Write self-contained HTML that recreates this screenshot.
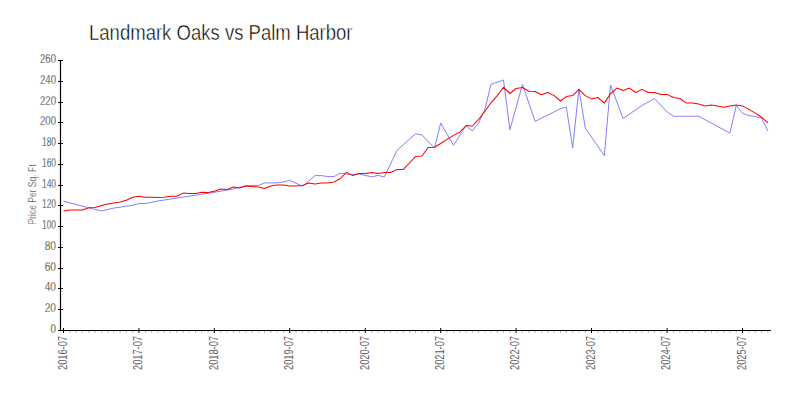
<!DOCTYPE html>
<html><head><meta charset="utf-8"><style>
html,body{margin:0;padding:0;background:#fff;width:800px;height:400px;overflow:hidden}
svg{display:block}
text{font-family:"Liberation Sans",sans-serif}
.title{font-size:22.5px;fill:#000;stroke:#fff;stroke-width:0.45px}
.yl{font-size:12px;fill:#000;stroke:#fff;stroke-width:0.3px}
.xl{font-size:12px;fill:#000;stroke:#fff;stroke-width:0.3px}
.ylab{font-size:11px;fill:#111;stroke:#fff;stroke-width:0.35px}
</style></head><body>
<svg width="800" height="400" viewBox="0 0 800 400">
<rect width="800" height="400" fill="#fff"/>
<text x="89" y="40" class="title" textLength="263.5" lengthAdjust="spacingAndGlyphs">Landmark Oaks vs Palm Harbor</text>
<text transform="translate(35.6,224.5) rotate(-90)" class="ylab" textLength="60" lengthAdjust="spacingAndGlyphs">Price Per Sq. Ft</text>
<line x1="60.5" y1="60" x2="60.5" y2="331" stroke="#000" stroke-width="1.2"/>
<line x1="60" y1="330.5" x2="771" y2="330.5" stroke="#000" stroke-width="1.2"/>
<line x1="58" y1="330.5" x2="63" y2="330.5" stroke="#000" stroke-width="1"/><text x="50.50" y="333.3" class="yl" textLength="5.5" lengthAdjust="spacingAndGlyphs">0</text><line x1="58" y1="309.5" x2="63" y2="309.5" stroke="#000" stroke-width="1"/><text x="44.75" y="312.3" class="yl" textLength="11.25" lengthAdjust="spacingAndGlyphs">20</text><line x1="58" y1="288.5" x2="63" y2="288.5" stroke="#000" stroke-width="1"/><text x="44.75" y="291.3" class="yl" textLength="11.25" lengthAdjust="spacingAndGlyphs">40</text><line x1="58" y1="268.5" x2="63" y2="268.5" stroke="#000" stroke-width="1"/><text x="44.75" y="271.3" class="yl" textLength="11.25" lengthAdjust="spacingAndGlyphs">60</text><line x1="58" y1="247.5" x2="63" y2="247.5" stroke="#000" stroke-width="1"/><text x="44.75" y="250.3" class="yl" textLength="11.25" lengthAdjust="spacingAndGlyphs">80</text><line x1="58" y1="226.5" x2="63" y2="226.5" stroke="#000" stroke-width="1"/><text x="42.00" y="229.3" class="yl" textLength="14" lengthAdjust="spacingAndGlyphs">100</text><line x1="58" y1="205.5" x2="63" y2="205.5" stroke="#000" stroke-width="1"/><text x="42.00" y="208.3" class="yl" textLength="14" lengthAdjust="spacingAndGlyphs">120</text><line x1="58" y1="185.5" x2="63" y2="185.5" stroke="#000" stroke-width="1"/><text x="42.00" y="188.3" class="yl" textLength="14" lengthAdjust="spacingAndGlyphs">140</text><line x1="58" y1="164.5" x2="63" y2="164.5" stroke="#000" stroke-width="1"/><text x="42.00" y="167.3" class="yl" textLength="14" lengthAdjust="spacingAndGlyphs">160</text><line x1="58" y1="143.5" x2="63" y2="143.5" stroke="#000" stroke-width="1"/><text x="42.00" y="146.3" class="yl" textLength="14" lengthAdjust="spacingAndGlyphs">180</text><line x1="58" y1="122.5" x2="63" y2="122.5" stroke="#000" stroke-width="1"/><text x="40.00" y="125.3" class="yl" textLength="16" lengthAdjust="spacingAndGlyphs">200</text><line x1="58" y1="102.5" x2="63" y2="102.5" stroke="#000" stroke-width="1"/><text x="40.00" y="105.3" class="yl" textLength="16" lengthAdjust="spacingAndGlyphs">220</text><line x1="58" y1="81.5" x2="63" y2="81.5" stroke="#000" stroke-width="1"/><text x="40.00" y="84.3" class="yl" textLength="16" lengthAdjust="spacingAndGlyphs">240</text><line x1="58" y1="60.5" x2="63" y2="60.5" stroke="#000" stroke-width="1"/><text x="40.00" y="63.3" class="yl" textLength="16" lengthAdjust="spacingAndGlyphs">260</text><line x1="69.90" y1="331" x2="69.90" y2="333" stroke="#bbb" stroke-width="1"/><line x1="76.31" y1="331" x2="76.31" y2="333" stroke="#bbb" stroke-width="1"/><line x1="82.50" y1="331" x2="82.50" y2="333" stroke="#bbb" stroke-width="1"/><line x1="88.91" y1="331" x2="88.91" y2="333" stroke="#bbb" stroke-width="1"/><line x1="95.11" y1="331" x2="95.11" y2="333" stroke="#bbb" stroke-width="1"/><line x1="101.51" y1="331" x2="101.51" y2="333" stroke="#bbb" stroke-width="1"/><line x1="107.91" y1="331" x2="107.91" y2="333" stroke="#bbb" stroke-width="1"/><line x1="113.70" y1="331" x2="113.70" y2="333" stroke="#bbb" stroke-width="1"/><line x1="120.10" y1="331" x2="120.10" y2="333" stroke="#bbb" stroke-width="1"/><line x1="126.30" y1="331" x2="126.30" y2="333" stroke="#bbb" stroke-width="1"/><line x1="132.70" y1="331" x2="132.70" y2="333" stroke="#bbb" stroke-width="1"/><line x1="145.30" y1="331" x2="145.30" y2="333" stroke="#bbb" stroke-width="1"/><line x1="151.71" y1="331" x2="151.71" y2="333" stroke="#bbb" stroke-width="1"/><line x1="157.90" y1="331" x2="157.90" y2="333" stroke="#bbb" stroke-width="1"/><line x1="164.31" y1="331" x2="164.31" y2="333" stroke="#bbb" stroke-width="1"/><line x1="170.50" y1="331" x2="170.50" y2="333" stroke="#bbb" stroke-width="1"/><line x1="176.91" y1="331" x2="176.91" y2="333" stroke="#bbb" stroke-width="1"/><line x1="183.31" y1="331" x2="183.31" y2="333" stroke="#bbb" stroke-width="1"/><line x1="189.10" y1="331" x2="189.10" y2="333" stroke="#bbb" stroke-width="1"/><line x1="195.50" y1="331" x2="195.50" y2="333" stroke="#bbb" stroke-width="1"/><line x1="201.70" y1="331" x2="201.70" y2="333" stroke="#bbb" stroke-width="1"/><line x1="208.10" y1="331" x2="208.10" y2="333" stroke="#bbb" stroke-width="1"/><line x1="220.70" y1="331" x2="220.70" y2="333" stroke="#bbb" stroke-width="1"/><line x1="227.10" y1="331" x2="227.10" y2="333" stroke="#bbb" stroke-width="1"/><line x1="233.30" y1="331" x2="233.30" y2="333" stroke="#bbb" stroke-width="1"/><line x1="239.71" y1="331" x2="239.71" y2="333" stroke="#bbb" stroke-width="1"/><line x1="245.90" y1="331" x2="245.90" y2="333" stroke="#bbb" stroke-width="1"/><line x1="252.31" y1="331" x2="252.31" y2="333" stroke="#bbb" stroke-width="1"/><line x1="258.71" y1="331" x2="258.71" y2="333" stroke="#bbb" stroke-width="1"/><line x1="264.49" y1="331" x2="264.49" y2="333" stroke="#bbb" stroke-width="1"/><line x1="270.90" y1="331" x2="270.90" y2="333" stroke="#bbb" stroke-width="1"/><line x1="277.09" y1="331" x2="277.09" y2="333" stroke="#bbb" stroke-width="1"/><line x1="283.50" y1="331" x2="283.50" y2="333" stroke="#bbb" stroke-width="1"/><line x1="296.10" y1="331" x2="296.10" y2="333" stroke="#bbb" stroke-width="1"/><line x1="302.50" y1="331" x2="302.50" y2="333" stroke="#bbb" stroke-width="1"/><line x1="308.70" y1="331" x2="308.70" y2="333" stroke="#bbb" stroke-width="1"/><line x1="315.10" y1="331" x2="315.10" y2="333" stroke="#bbb" stroke-width="1"/><line x1="321.30" y1="331" x2="321.30" y2="333" stroke="#bbb" stroke-width="1"/><line x1="327.70" y1="331" x2="327.70" y2="333" stroke="#bbb" stroke-width="1"/><line x1="334.11" y1="331" x2="334.11" y2="333" stroke="#bbb" stroke-width="1"/><line x1="340.10" y1="331" x2="340.10" y2="333" stroke="#bbb" stroke-width="1"/><line x1="346.50" y1="331" x2="346.50" y2="333" stroke="#bbb" stroke-width="1"/><line x1="352.70" y1="331" x2="352.70" y2="333" stroke="#bbb" stroke-width="1"/><line x1="359.10" y1="331" x2="359.10" y2="333" stroke="#bbb" stroke-width="1"/><line x1="371.70" y1="331" x2="371.70" y2="333" stroke="#bbb" stroke-width="1"/><line x1="378.11" y1="331" x2="378.11" y2="333" stroke="#bbb" stroke-width="1"/><line x1="384.31" y1="331" x2="384.31" y2="333" stroke="#bbb" stroke-width="1"/><line x1="390.71" y1="331" x2="390.71" y2="333" stroke="#bbb" stroke-width="1"/><line x1="396.91" y1="331" x2="396.91" y2="333" stroke="#bbb" stroke-width="1"/><line x1="403.31" y1="331" x2="403.31" y2="333" stroke="#bbb" stroke-width="1"/><line x1="409.71" y1="331" x2="409.71" y2="333" stroke="#bbb" stroke-width="1"/><line x1="415.50" y1="331" x2="415.50" y2="333" stroke="#bbb" stroke-width="1"/><line x1="421.90" y1="331" x2="421.90" y2="333" stroke="#bbb" stroke-width="1"/><line x1="428.10" y1="331" x2="428.10" y2="333" stroke="#bbb" stroke-width="1"/><line x1="434.50" y1="331" x2="434.50" y2="333" stroke="#bbb" stroke-width="1"/><line x1="447.10" y1="331" x2="447.10" y2="333" stroke="#bbb" stroke-width="1"/><line x1="453.51" y1="331" x2="453.51" y2="333" stroke="#bbb" stroke-width="1"/><line x1="459.70" y1="331" x2="459.70" y2="333" stroke="#bbb" stroke-width="1"/><line x1="466.11" y1="331" x2="466.11" y2="333" stroke="#bbb" stroke-width="1"/><line x1="472.30" y1="331" x2="472.30" y2="333" stroke="#bbb" stroke-width="1"/><line x1="478.71" y1="331" x2="478.71" y2="333" stroke="#bbb" stroke-width="1"/><line x1="485.11" y1="331" x2="485.11" y2="333" stroke="#bbb" stroke-width="1"/><line x1="490.90" y1="331" x2="490.90" y2="333" stroke="#bbb" stroke-width="1"/><line x1="497.30" y1="331" x2="497.30" y2="333" stroke="#bbb" stroke-width="1"/><line x1="503.50" y1="331" x2="503.50" y2="333" stroke="#bbb" stroke-width="1"/><line x1="509.90" y1="331" x2="509.90" y2="333" stroke="#bbb" stroke-width="1"/><line x1="522.50" y1="331" x2="522.50" y2="333" stroke="#bbb" stroke-width="1"/><line x1="528.91" y1="331" x2="528.91" y2="333" stroke="#bbb" stroke-width="1"/><line x1="535.10" y1="331" x2="535.10" y2="333" stroke="#bbb" stroke-width="1"/><line x1="541.51" y1="331" x2="541.51" y2="333" stroke="#bbb" stroke-width="1"/><line x1="547.70" y1="331" x2="547.70" y2="333" stroke="#bbb" stroke-width="1"/><line x1="554.11" y1="331" x2="554.11" y2="333" stroke="#bbb" stroke-width="1"/><line x1="560.51" y1="331" x2="560.51" y2="333" stroke="#bbb" stroke-width="1"/><line x1="566.29" y1="331" x2="566.29" y2="333" stroke="#bbb" stroke-width="1"/><line x1="572.70" y1="331" x2="572.70" y2="333" stroke="#bbb" stroke-width="1"/><line x1="578.90" y1="331" x2="578.90" y2="333" stroke="#bbb" stroke-width="1"/><line x1="585.30" y1="331" x2="585.30" y2="333" stroke="#bbb" stroke-width="1"/><line x1="597.90" y1="331" x2="597.90" y2="333" stroke="#bbb" stroke-width="1"/><line x1="604.30" y1="331" x2="604.30" y2="333" stroke="#bbb" stroke-width="1"/><line x1="610.50" y1="331" x2="610.50" y2="333" stroke="#bbb" stroke-width="1"/><line x1="616.90" y1="331" x2="616.90" y2="333" stroke="#bbb" stroke-width="1"/><line x1="623.10" y1="331" x2="623.10" y2="333" stroke="#bbb" stroke-width="1"/><line x1="629.51" y1="331" x2="629.51" y2="333" stroke="#bbb" stroke-width="1"/><line x1="635.91" y1="331" x2="635.91" y2="333" stroke="#bbb" stroke-width="1"/><line x1="641.90" y1="331" x2="641.90" y2="333" stroke="#bbb" stroke-width="1"/><line x1="648.30" y1="331" x2="648.30" y2="333" stroke="#bbb" stroke-width="1"/><line x1="654.50" y1="331" x2="654.50" y2="333" stroke="#bbb" stroke-width="1"/><line x1="660.90" y1="331" x2="660.90" y2="333" stroke="#bbb" stroke-width="1"/><line x1="673.51" y1="331" x2="673.51" y2="333" stroke="#bbb" stroke-width="1"/><line x1="679.91" y1="331" x2="679.91" y2="333" stroke="#bbb" stroke-width="1"/><line x1="686.11" y1="331" x2="686.11" y2="333" stroke="#bbb" stroke-width="1"/><line x1="692.51" y1="331" x2="692.51" y2="333" stroke="#bbb" stroke-width="1"/><line x1="698.71" y1="331" x2="698.71" y2="333" stroke="#bbb" stroke-width="1"/><line x1="705.11" y1="331" x2="705.11" y2="333" stroke="#bbb" stroke-width="1"/><line x1="711.51" y1="331" x2="711.51" y2="333" stroke="#bbb" stroke-width="1"/><line x1="717.30" y1="331" x2="717.30" y2="333" stroke="#bbb" stroke-width="1"/><line x1="723.70" y1="331" x2="723.70" y2="333" stroke="#bbb" stroke-width="1"/><line x1="729.90" y1="331" x2="729.90" y2="333" stroke="#bbb" stroke-width="1"/><line x1="736.30" y1="331" x2="736.30" y2="333" stroke="#bbb" stroke-width="1"/><line x1="748.90" y1="331" x2="748.90" y2="333" stroke="#bbb" stroke-width="1"/><line x1="755.31" y1="331" x2="755.31" y2="333" stroke="#bbb" stroke-width="1"/><line x1="761.50" y1="331" x2="761.50" y2="333" stroke="#bbb" stroke-width="1"/><line x1="767.91" y1="331" x2="767.91" y2="333" stroke="#bbb" stroke-width="1"/><line x1="63.50" y1="328" x2="63.50" y2="333" stroke="#000" stroke-width="1"/><text transform="translate(66.70,370) rotate(-90)" class="xl" textLength="34" lengthAdjust="spacingAndGlyphs">2016-07</text><line x1="138.90" y1="328" x2="138.90" y2="333" stroke="#000" stroke-width="1"/><text transform="translate(142.10,370) rotate(-90)" class="xl" textLength="34" lengthAdjust="spacingAndGlyphs">2017-07</text><line x1="214.30" y1="328" x2="214.30" y2="333" stroke="#000" stroke-width="1"/><text transform="translate(217.50,370) rotate(-90)" class="xl" textLength="34" lengthAdjust="spacingAndGlyphs">2018-07</text><line x1="289.70" y1="328" x2="289.70" y2="333" stroke="#000" stroke-width="1"/><text transform="translate(292.90,370) rotate(-90)" class="xl" textLength="34" lengthAdjust="spacingAndGlyphs">2019-07</text><line x1="365.30" y1="328" x2="365.30" y2="333" stroke="#000" stroke-width="1"/><text transform="translate(368.50,370) rotate(-90)" class="xl" textLength="34" lengthAdjust="spacingAndGlyphs">2020-07</text><line x1="440.70" y1="328" x2="440.70" y2="333" stroke="#000" stroke-width="1"/><text transform="translate(443.90,370) rotate(-90)" class="xl" textLength="34" lengthAdjust="spacingAndGlyphs">2021-07</text><line x1="516.10" y1="328" x2="516.10" y2="333" stroke="#000" stroke-width="1"/><text transform="translate(519.30,370) rotate(-90)" class="xl" textLength="34" lengthAdjust="spacingAndGlyphs">2022-07</text><line x1="591.50" y1="328" x2="591.50" y2="333" stroke="#000" stroke-width="1"/><text transform="translate(594.70,370) rotate(-90)" class="xl" textLength="34" lengthAdjust="spacingAndGlyphs">2023-07</text><line x1="667.10" y1="328" x2="667.10" y2="333" stroke="#000" stroke-width="1"/><text transform="translate(670.30,370) rotate(-90)" class="xl" textLength="34" lengthAdjust="spacingAndGlyphs">2024-07</text><line x1="742.50" y1="328" x2="742.50" y2="333" stroke="#000" stroke-width="1"/><text transform="translate(745.70,370) rotate(-90)" class="xl" textLength="34" lengthAdjust="spacingAndGlyphs">2025-07</text>
<path d="M63.50,201.25 L101.51,211.00 L113.70,208.10 L126.30,206.25 L132.70,205.40 L138.90,203.50 L145.30,203.50 L151.71,202.25 L157.90,201.00 L214.30,192.25 L233.30,189.00 L245.90,185.60 L258.71,185.40 L264.49,182.90 L277.09,182.90 L283.50,181.90 L289.70,180.40 L302.50,186.25 L315.10,175.60 L321.30,175.60 L327.70,176.60 L334.11,176.60 L340.10,173.10 L346.50,174.10 L352.70,174.60 L359.10,174.00 L371.70,176.90 L378.11,175.40 L384.31,176.90 L396.91,150.60 L403.31,144.75 L415.50,133.75 L421.90,135.00 L434.50,148.10 L440.70,123.10 L453.51,145.25 L466.11,125.60 L472.30,131.00 L478.71,123.10 L485.11,108.75 L490.90,84.40 L503.50,80.00 L509.90,129.75 L522.50,84.40 L535.10,121.40 L560.51,108.75 L566.29,106.90 L572.70,148.10 L578.90,88.75 L585.30,128.10 L604.30,155.60 L610.50,85.00 L623.10,118.50 L641.90,105.60 L654.50,98.50 L667.10,111.90 L673.51,116.25 L698.71,116.25 L729.90,133.10 L736.30,105.60 L742.50,113.10 L748.90,115.60 L755.31,116.60 L761.50,118.10 L767.91,131.00" fill="none" stroke="#8080ff" stroke-width="1" stroke-linejoin="round"/>
<path d="M63.50,211.00 L69.90,210.00 L76.31,210.00 L82.50,210.00 L88.91,207.75 L95.11,207.50 L101.51,205.40 L107.91,204.10 L113.70,203.10 L120.10,202.10 L126.30,200.25 L132.70,197.25 L138.90,196.25 L145.30,197.25 L151.71,197.25 L157.90,197.50 L164.31,197.25 L170.50,196.25 L176.91,196.25 L183.31,193.10 L189.10,193.40 L195.50,193.40 L201.70,192.25 L208.10,192.50 L214.30,191.25 L220.70,189.00 L227.10,189.40 L233.30,187.10 L239.71,188.10 L245.90,185.90 L252.31,186.80 L258.71,186.90 L264.49,188.40 L270.90,186.00 L277.09,185.00 L283.50,185.00 L289.70,186.00 L296.10,186.00 L302.50,185.40 L308.70,183.10 L315.10,184.10 L321.30,182.90 L327.70,182.90 L334.11,181.90 L340.10,178.75 L346.50,172.40 L352.70,175.60 L359.10,173.50 L365.30,173.40 L371.70,172.50 L378.11,173.50 L384.31,172.50 L390.71,172.50 L396.91,169.40 L403.31,169.40 L409.71,162.75 L415.50,156.60 L421.90,156.00 L428.10,147.50 L434.50,147.25 L440.70,143.50 L447.10,139.40 L453.51,135.40 L459.70,132.25 L466.11,125.60 L472.30,126.00 L478.71,119.40 L485.11,111.00 L490.90,102.80 L497.30,95.60 L503.50,87.25 L509.90,93.50 L516.10,88.50 L522.50,87.50 L528.91,91.25 L535.10,91.50 L541.51,94.75 L547.70,92.50 L554.11,95.60 L560.51,101.00 L566.29,96.60 L572.70,95.60 L578.90,89.40 L585.30,95.60 L591.50,98.90 L597.90,97.50 L604.30,103.10 L610.50,93.75 L616.90,88.10 L623.10,90.60 L629.51,88.10 L635.91,92.50 L641.90,89.40 L648.30,92.50 L654.50,92.50 L660.90,94.40 L667.10,94.40 L673.51,97.50 L679.91,98.50 L686.11,102.90 L692.51,102.90 L698.71,104.00 L705.11,106.00 L711.51,105.00 L717.30,106.00 L723.70,107.25 L729.90,106.00 L736.30,105.00 L742.50,105.90 L748.90,109.40 L755.31,113.10 L761.50,117.25 L767.91,122.75" fill="none" stroke="#ff0000" stroke-width="1.05" stroke-linejoin="round"/>
</svg>
</body></html>
